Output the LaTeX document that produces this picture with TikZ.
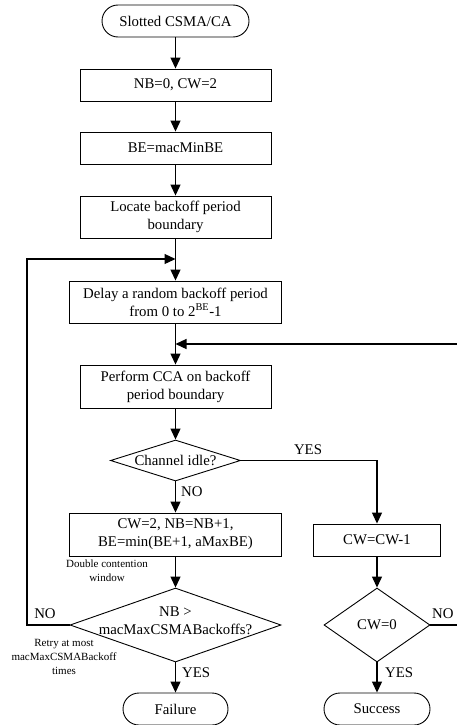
\documentclass[tikz,border=0pt]{standalone}
\usepackage{fontspec}
\setmainfont{Liberation Serif}
\usetikzlibrary{shapes.geometric,arrows.meta}
\begin{document}
\begin{tikzpicture}[x=1pt,y=-1pt,
  font=\fontsize{14.8}{18}\selectfont,
  >={Triangle[length=11pt,width=10pt]},
  box/.style={draw, rectangle, inner sep=0pt, align=center, line width=0.9pt},
  term/.style={draw, rectangle, rounded corners=16pt, inner sep=0pt, line width=0.9pt, minimum height=32pt},
  dia/.style={draw, diamond, inner sep=0pt, line width=0.9pt},
  txt/.style={inner sep=0pt, align=center},
  small/.style={inner sep=0pt, align=center, font=\fontsize{11}{13.6}\selectfont},
  conn/.style={->, line width=1.2pt},
  line/.style={line width=1.2pt}
]
\useasboundingbox (0,0) rectangle (457,725);
\clip (0,0) rectangle (457,725);

% main column
\node[term, minimum width=147pt] (start) at (175.5,21) {Slotted CSMA/CA};
\node[box, minimum width=191pt, minimum height=32pt] (b1) at (175.5,85) {NB=0, CW=2};
\node[box, minimum width=191pt, minimum height=32pt] (b2) at (175.5,148) {BE=macMinBE};
\node[box, minimum width=191pt, minimum height=42pt] (b3) at (175.5,217) {Locate backoff period\\boundary};
\node[box, minimum width=212pt, minimum height=42pt] (b4) at (175.5,302) {Delay a random backoff period\\from 0 to 2\textsuperscript{BE}-1};
\node[box, minimum width=191pt, minimum height=43pt] (b5) at (175.5,386.5) {Perform CCA on backoff\\period boundary};
\node[dia, minimum width=130pt, minimum height=41pt] (d1) at (175.5,460.5) {};
\node[txt] (d1t) at (d1.center) {Channel idle?};
\node[box, minimum width=212pt, minimum height=43pt] (b6) at (175.5,534.5) {CW=2, NB=NB+1,\\BE=min(BE+1, aMaxBE)};
\node[dia, minimum width=211pt, minimum height=74pt] (d2) at (175.5,625) {};
\node[txt] (d2t) at (175.5,621) {NB >\\macMaxCSMABackoffs?};
\node[term, minimum width=105pt] (fail) at (175.5,709) {Failure};

% right column
\node[box, minimum width=127pt, minimum height=32pt] (b7) at (377,540) {CW=CW-1};
\node[dia, minimum width=106pt, minimum height=74pt] (d3) at (377,625) {};
\node[txt] (d3t) at (d3.center) {CW=0};
\node[term, minimum width=106pt] (succ) at (377,709) {Success};

% helper coordinates
\coordinate (m1) at (175.5,259);
\coordinate (lt) at (27,259);
\coordinate (m2) at (175.5,344);
\coordinate (fr) at (460,344);
\coordinate (nr) at (460,625);

% connectors
\draw[conn] (start) -- (b1);
\draw[conn] (b1) -- (b2);
\draw[conn] (b2) -- (b3);
\draw[conn] (b3) -- (b4);
\draw[conn] (d2.west) -| (lt) -- (m1);
\draw[conn] (b4) -- (b5);
\draw[conn] (fr) -- (m2);
\draw[conn] (b5) -- (d1);
\draw[conn] (d1.east) -| (b7.north);
\draw[conn] (d1.south) -- (b6.north);
\draw[conn] (b6) -- (d2);
\draw[conn] (b7) -- (d3);
\draw[conn] (d2.south) -- (fail.north);
\draw[conn] (d3.south) -- (succ.north);
\draw[line] (d3.east) -- (nr);

% labels
\node[txt] (ly1) at (308,450) {YES};
\node[txt, anchor=west] (ln1) at (181,492) {NO};
\node[small] (dcw) at (107,571) {Double contention\\window};
\node[txt] (ln2) at (45,614) {NO};
\node[small] (retry) at (64,657) {Retry at most\\macMaxCSMABackoff\\times};
\node[txt, anchor=west] (ly2) at (182,673) {YES};
\node[txt, anchor=west] (ly3) at (385,673) {YES};
\node[txt, anchor=west] (ln3) at (432,614) {NO};
\end{tikzpicture}
\end{document}
